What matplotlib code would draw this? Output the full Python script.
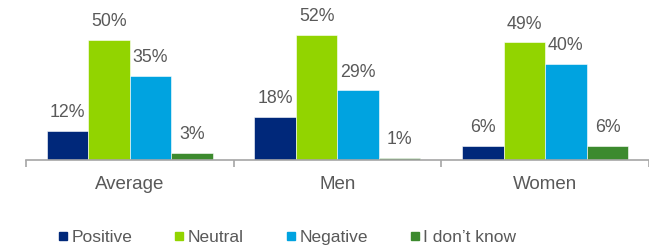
import matplotlib.pyplot as plt
import numpy as np
from matplotlib.lines import Line2D

groups = ["Average", "Men", "Women"]
series = ["Positive", "Neutral", "Negative", "I don\u2019t know"]
positive = [12, 18, 6]
neutral = [50, 52, 49]
negative = [35, 29, 40]
dont_know = [3, 1, 6]
colors = ["#00287A", "#92D400", "#00A3E0", "#3C8A2E"]

plt.rcParams["font.family"] = ["Liberation Sans", "DejaVu Sans"]
text_color = "#595959"

fig = plt.figure(figsize=(6.49, 2.5), dpi=100)
ax = fig.add_axes([25.75 / 649, 90 / 250, (649 - 25.75) / 649, 160 / 250])

x = np.arange(len(groups))
w = 0.2
for i, vals in enumerate([positive, neutral, negative, dont_know]):
    pos = x + (i - 1.5) * w
    ax.bar(pos, vals, width=w, color=colors[i], edgecolor="white", linewidth=0.4)
    for px, v in zip(pos, vals):
        ax.annotate(f"{v}%", (px, v), xytext=(0, 10), textcoords="offset points",
                    ha="center", va="baseline", fontsize=12.8, color=text_color)

ax.set_xlim(-0.5, 2.447)
ax.set_ylim(0, 160 / 2.4)

for s in ["top", "right", "left"]:
    ax.spines[s].set_visible(False)
ax.spines["bottom"].set_color("#A6A6A6")
ax.spines["bottom"].set_linewidth(1.2)
ax.set_yticks([])

ax.set_xticks(x)
ax.set_xticklabels(groups, fontsize=13.5, color=text_color)
ax.tick_params(axis="x", which="major", length=0, pad=11.5)
ax.set_xticks([-0.5, 0.5, 1.5, 2.5], minor=True)
ax.tick_params(axis="x", which="minor", length=5, width=1.2, color="#A6A6A6", direction="out")

# legend entries sit at fixed spots along the bottom (reference uses a narrow font)
legend_x = [59, 175, 287, 411]
for name, c, lx in zip(series, colors, legend_x):
    h = Line2D([0], [0], marker="s", linestyle="none", markersize=6,
               markerfacecolor=c, markeredgecolor=c)
    fig.legend([h], [name], loc="center left", bbox_to_anchor=(lx / 649, 1 - 237 / 250),
               frameon=False, fontsize=12.5, handlelength=0.5, handletextpad=0.2,
               borderpad=0, borderaxespad=0, labelcolor=text_color)

fig.savefig("out.png", dpi=100)
